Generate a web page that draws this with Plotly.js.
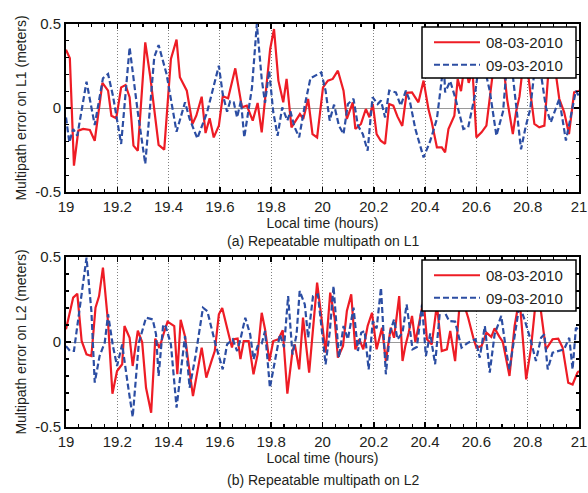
<!DOCTYPE html>
<html>
<head>
<meta charset="utf-8">
<script src="https://cdn.plot.ly/plotly-3.0.1.min.js"></script>
<style>html,body{margin:0;padding:0;background:#fff;}#chart{width:588px;height:493px;}</style>
</head>
<body>
<div id="chart"></div>
<script>
// ---------- Data ----------
const seriesNames = ["08-03-2010", "09-03-2010"];
const xTickVals = [19, 19.2, 19.4, 19.6, 19.8, 20, 20.2, 20.4, 20.6, 20.8, 21];
const xTickText = ["19", "19.2", "19.4", "19.6", "19.8", "20", "20.2", "20.4", "20.6", "20.8", "21"];
const yTickVals = [-0.5, 0, 0.5];
const yTickText = ["-0.5", "0", "0.5"];

// (a) L1, 08-03-2010
const l1RedT = [19.000,19.015,19.031,19.048,19.067,19.093,19.112,19.142,19.164,19.177,19.196,19.215,19.232,19.248,19.263,19.280,19.309,19.328,19.361,19.383,19.409,19.431,19.444,19.471,19.493,19.508,19.529,19.544,19.560,19.576,19.596,19.611,19.632,19.660,19.686,19.705,19.728,19.747,19.763,19.796,19.811,19.828,19.847,19.860,19.879,19.892,19.912,19.925,19.944,19.961,19.979,20.002,20.021,20.040,20.060,20.082,20.095,20.118,20.128,20.150,20.169,20.183,20.196,20.211,20.227,20.244,20.260,20.276,20.292,20.311,20.328,20.349,20.374,20.394,20.413,20.426,20.446,20.465,20.478,20.491,20.514,20.527,20.540,20.555,20.570,20.585,20.600,20.620,20.639,20.661,20.675,20.690,20.705,20.720,20.742,20.755,20.768,20.785,20.800,20.826,20.845,20.865,20.880,20.895,20.910,20.923,20.942,20.961,20.981,21.000];
const l1RedV = [0.347,0.296,-0.343,-0.135,-0.125,-0.131,-0.195,0.149,0.103,-0.046,-0.061,0.123,0.137,0.064,-0.224,-0.254,0.391,0.192,-0.220,-0.248,0.292,0.407,0.183,0.103,-0.095,-0.046,0.067,-0.149,-0.061,-0.175,-0.105,0.070,0.058,0.236,0.004,0.014,-0.075,0.030,-0.145,0.351,0.470,0.163,0.034,0.173,-0.115,-0.085,-0.036,-0.065,0.054,-0.155,-0.175,0.123,0.163,0.173,0.222,0.103,-0.065,0.034,-0.125,-0.095,-0.006,-0.055,0.024,-0.155,-0.195,-0.214,0.024,0.014,-0.050,-0.107,0.090,0.093,0.034,0.163,-0.006,-0.085,-0.234,-0.234,-0.264,-0.125,-0.046,0.172,0.100,0.270,0.150,0.220,-0.175,-0.145,-0.105,0.172,0.300,0.200,0.260,0.050,-0.155,-0.020,0.069,0.300,0.220,-0.095,-0.115,-0.105,0.200,0.320,0.200,0.055,-0.024,-0.155,0.093,0.103];

// (a) L1, 09-03-2010
const l1BlueT = [19.000,19.013,19.028,19.044,19.080,19.112,19.144,19.164,19.183,19.215,19.248,19.280,19.309,19.344,19.361,19.392,19.431,19.464,19.482,19.512,19.550,19.596,19.611,19.628,19.640,19.654,19.667,19.682,19.695,19.725,19.744,19.763,19.776,19.792,19.808,19.825,19.843,19.863,19.875,19.890,19.909,19.932,19.953,19.976,19.995,20.012,20.028,20.045,20.064,20.082,20.099,20.121,20.138,20.157,20.176,20.195,20.215,20.228,20.244,20.260,20.286,20.305,20.325,20.340,20.362,20.394,20.420,20.446,20.465,20.472,20.478,20.498,20.517,20.549,20.568,20.594,20.613,20.630,20.652,20.678,20.704,20.720,20.740,20.774,20.793,20.810,20.832,20.850,20.871,20.890,20.910,20.923,20.949,20.968,20.988,21.000];
const l1BlueV = [-0.056,-0.204,-0.125,-0.165,0.157,-0.101,0.177,0.202,0.073,-0.214,0.361,-0.026,-0.333,0.302,0.375,0.202,-0.141,0.034,-0.065,-0.181,-0.026,0.252,0.083,-0.022,0.040,0.034,-0.056,0.044,-0.175,0.120,0.500,0.173,0.030,0.222,-0.024,-0.165,0.004,-0.075,-0.020,-0.110,-0.175,0.024,0.177,0.196,0.212,0.103,-0.075,0.020,-0.105,-0.155,0.024,0.054,-0.105,-0.155,-0.254,0.064,0.024,0.044,-0.056,0.103,0.093,0.014,0.103,0.044,-0.125,-0.294,-0.196,-0.065,0.172,0.300,0.093,0.160,0.064,-0.125,-0.115,0.074,0.300,0.250,0.103,-0.165,-0.020,0.280,0.220,-0.246,-0.105,-0.006,0.300,0.220,0.004,-0.085,-0.006,0.054,-0.194,-0.046,0.103,0.070];

// (b) L2, 08-03-2010
const l2RedT = [19.000,19.028,19.044,19.061,19.080,19.099,19.115,19.129,19.144,19.164,19.181,19.199,19.219,19.228,19.248,19.260,19.280,19.297,19.312,19.332,19.348,19.364,19.383,19.396,19.422,19.434,19.447,19.464,19.477,19.495,19.529,19.547,19.568,19.580,19.596,19.609,19.635,19.647,19.654,19.669,19.680,19.693,19.712,19.731,19.747,19.763,19.776,19.793,19.808,19.828,19.845,19.863,19.883,19.892,19.909,19.924,19.948,19.961,19.979,19.996,20.012,20.030,20.047,20.060,20.080,20.095,20.112,20.128,20.144,20.159,20.176,20.193,20.211,20.232,20.247,20.266,20.279,20.299,20.312,20.323,20.336,20.349,20.362,20.377,20.394,20.407,20.426,20.446,20.465,20.485,20.498,20.517,20.536,20.556,20.568,20.588,20.600,20.620,20.639,20.658,20.671,20.690,20.703,20.729,20.749,20.768,20.794,20.813,20.832,20.850,20.871,20.897,20.919,20.936,20.958,20.975,20.994,21.000];
const l2RedV = [0.075,0.261,0.284,0.006,-0.073,-0.082,0.202,0.270,0.437,0.114,-0.304,-0.171,-0.131,0.094,0.025,-0.141,0.067,-0.002,-0.269,-0.416,0.020,-0.035,0.060,0.120,0.094,-0.190,0.131,0.033,-0.120,-0.318,-0.033,-0.210,-0.108,-0.053,0.163,0.200,0.040,-0.033,0.016,0.020,-0.100,0.006,0.006,-0.190,-0.073,0.172,0.075,-0.112,0.006,0.016,0.069,-0.304,-0.053,-0.014,-0.161,0.143,-0.180,0.045,0.349,0.143,-0.063,0.290,0.143,-0.092,-0.024,0.182,0.280,-0.043,0.016,-0.043,0.094,0.172,-0.043,0.084,-0.112,0.084,0.025,0.270,-0.112,-0.024,0.055,0.153,0.000,0.114,0.250,0.016,-0.014,0.220,-0.053,-0.043,0.065,-0.112,0.250,0.200,0.143,0.025,-0.033,-0.024,0.055,0.030,0.080,0.030,0.000,-0.200,0.094,0.260,-0.220,-0.033,0.250,0.200,-0.043,0.016,0.020,-0.033,-0.240,-0.250,-0.180,-0.170];

// (b) L2, 09-03-2010
const l2BlueT = [19.000,19.016,19.031,19.080,19.099,19.112,19.131,19.151,19.164,19.183,19.199,19.219,19.241,19.260,19.284,19.312,19.338,19.351,19.361,19.379,19.389,19.409,19.431,19.464,19.482,19.505,19.534,19.551,19.583,19.611,19.628,19.650,19.667,19.680,19.699,19.718,19.731,19.747,19.763,19.776,19.795,19.815,19.834,19.850,19.866,19.883,19.899,19.911,19.931,19.944,19.963,19.982,19.995,20.012,20.028,20.043,20.064,20.082,20.099,20.121,20.138,20.151,20.164,20.180,20.196,20.211,20.228,20.247,20.263,20.279,20.292,20.312,20.328,20.344,20.351,20.368,20.388,20.403,20.420,20.439,20.462,20.478,20.494,20.517,20.542,20.568,20.597,20.613,20.633,20.652,20.671,20.697,20.716,20.729,20.749,20.768,20.790,20.810,20.832,20.852,20.865,20.878,20.897,20.917,20.942,20.962,20.975,20.988,21.000];
const l2BlueV = [-0.024,-0.053,-0.053,0.496,0.182,-0.239,-0.082,-0.004,0.163,-0.024,-0.141,-0.014,-0.250,-0.441,-0.004,0.143,0.133,0.045,-0.200,0.104,0.090,-0.014,-0.386,0.035,-0.269,-0.082,0.202,0.182,-0.014,-0.161,-0.014,0.016,-0.053,0.016,0.143,0.045,-0.102,-0.024,-0.010,0.065,-0.269,-0.112,0.045,-0.030,0.270,-0.073,0.045,0.300,0.221,0.025,0.270,0.280,0.100,-0.131,0.055,0.329,-0.092,0.094,0.016,0.202,-0.053,0.055,0.065,-0.161,0.123,0.080,0.319,-0.190,0.055,0.133,0.016,0.055,0.221,0.016,-0.043,-0.030,0.220,-0.082,0.050,-0.131,0.250,0.170,0.123,0.120,-0.033,-0.004,0.016,-0.092,0.094,-0.180,0.045,0.153,-0.053,-0.161,0.045,0.220,0.120,0.020,-0.112,0.025,0.045,-0.161,-0.063,-0.053,-0.043,0.025,-0.161,0.084,0.070];

// ---------- Style ----------
const RED = '#ee1c25';
const BLUE = '#2c4ea3';
const FONT = 'Liberation Sans, Arial, sans-serif';
const TXT = '#231f20';

// pixel geometry
const W = 588, H = 493, ML = 66, MR = 9, MT = 24, MB = 66;
const PW = W - ML - MR, PH = H - MT - MB;
const px = v => (v - ML) / PW;          // paper x from pixel
const py = v => (H - MB - v) / PH;      // paper y from pixel

function redTrace(x, y, xa, ya, leg) {
  return {x: x, y: y, xaxis: xa, yaxis: ya, type: 'scatter', mode: 'lines',
    name: seriesNames[0], legend: leg, showlegend: true,
    line: {color: RED, width: 2.2}};
}
function blueTrace(x, y, xa, ya, leg) {
  return {x: x, y: y, xaxis: xa, yaxis: ya, type: 'scatter', mode: 'lines',
    name: seriesNames[1], legend: leg, showlegend: true,
    line: {color: BLUE, width: 2.2, dash: '6px,3px'}};
}

const traces = [
  redTrace(l1RedT, l1RedV, 'x', 'y', 'legend'),
  blueTrace(l1BlueT, l1BlueV, 'x', 'y', 'legend'),
  redTrace(l2RedT, l2RedV, 'x2', 'y2', 'legend2'),
  blueTrace(l2BlueT, l2BlueV, 'x2', 'y2', 'legend2')
];

function xAxis(anchor) {
  return {
    anchor: anchor, domain: [0, 1], range: [19, 21],
    tickmode: 'array', tickvals: xTickVals, ticktext: xTickText,
    ticks: 'inside', ticklen: 5, tickwidth: 1.5, tickcolor: '#000',
    ticklabeloverflow: 'allow',
    minor: {dtick: 0.05, tick0: 19, ticks: 'inside', ticklen: 3, tickwidth: 1.2, tickcolor: '#000', showgrid: false},
    showgrid: true, gridcolor: '#808080', gridwidth: 1, griddash: '1px,2px',
    showline: true, linecolor: '#000', linewidth: 2, mirror: 'allticks',
    zeroline: false,
    tickfont: {family: FONT, size: 15, color: TXT},
    title: {text: 'Local time (hours)', font: {family: FONT, size: 14, color: TXT}, standoff: 1}
  };
}
function yAxis(anchor, domain, label) {
  return {
    anchor: anchor, domain: domain, range: [-0.5, 0.5],
    tickmode: 'array', tickvals: yTickVals, ticktext: yTickText,
    ticks: 'inside', ticklen: 5, tickwidth: 1.5, tickcolor: '#000',
    minor: {dtick: 0.1, tick0: -0.5, ticks: 'inside', ticklen: 3, tickwidth: 1.2, tickcolor: '#000', showgrid: false},
    showgrid: true, gridcolor: '#9a9a9a', gridwidth: 1,
    showline: true, linecolor: '#000', linewidth: 2, mirror: 'allticks',
    zeroline: false,
    tickfont: {family: FONT, size: 15, color: TXT},
    title: {text: label, font: {family: FONT, size: 14, color: TXT}, standoff: 5}
  };
}

const legendCommon = {
  xanchor: 'left', yanchor: 'top', x: px(432),
  bgcolor: 'rgba(0,0,0,0)', borderwidth: 0,
  font: {family: FONT, size: 15, color: TXT},
  tracegroupgap: 0, itemwidth: 44
};

// legend frames (white box with black border) drawn above the traces
function legendBox(yTopPx, yBotPx) {
  return {type: 'rect', xref: 'paper', yref: 'paper', layer: 'above',
    x0: px(422), x1: px(576), y0: py(yBotPx), y1: py(yTopPx),
    fillcolor: '#ffffff', line: {color: '#000', width: 1.5}};
}

const layout = {
  width: W, height: H,
  margin: {l: ML, r: MR, t: MT, b: MB},
  paper_bgcolor: '#fff', plot_bgcolor: '#fff',
  font: {family: FONT, color: TXT},
  xaxis: xAxis('y'),
  yaxis: yAxis('x', [py(192), 1], 'Multipath error on L1 (meters)'),
  xaxis2: xAxis('y2'),
  yaxis2: yAxis('x2', [0, py(257)], 'Multipath error on L2 (meters)'),
  legend: Object.assign({}, legendCommon, {y: py(26)}),
  legend2: Object.assign({}, legendCommon, {y: py(259)}),
  shapes: [legendBox(27, 78), legendBox(260, 311)],
  annotations: [
    {text: '(a) Repeatable multipath on L1', xref: 'paper', yref: 'paper', x: 0.5, y: py(241),
     xanchor: 'center', yanchor: 'middle', showarrow: false, font: {family: FONT, size: 14, color: TXT}},
    {text: '(b) Repeatable multipath on L2', xref: 'paper', yref: 'paper', x: 0.5, y: py(480),
     xanchor: 'center', yanchor: 'middle', showarrow: false, font: {family: FONT, size: 14, color: TXT}}
  ],
  showlegend: true
};

Plotly.newPlot('chart', traces, layout, {displayModeBar: false, staticPlot: true}).then(function () {
  // lengthen legend line samples to match the reference legend
  document.querySelectorAll('.legendlines path').forEach(function (p) {
    p.setAttribute('d', 'M2,0h46');
  });
});
</script>
</body>
</html>
